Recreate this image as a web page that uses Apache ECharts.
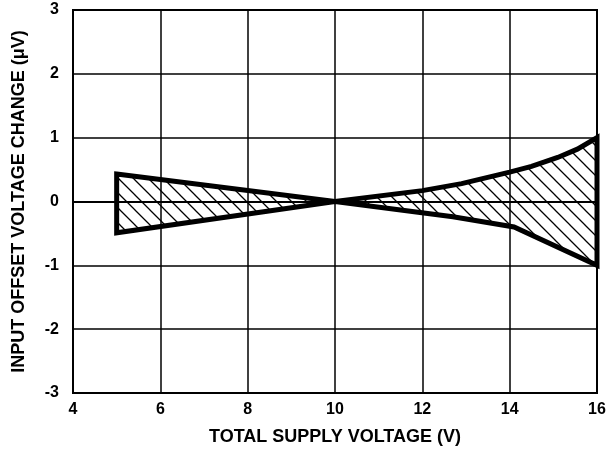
<!DOCTYPE html>
<html>
<head>
<meta charset="utf-8">
<script src="https://cdn.jsdelivr.net/npm/echarts@6/dist/echarts.min.js"></script>
<style>html,body{margin:0;padding:0;background:#fff}#c{width:609px;height:453px}</style>
</head>
<body>
<div id="c"></div>
<script>
// Upper boundary (left to right)
var upperX = [5, 10, 12, 12.9, 14, 14.5, 15.1, 15.55, 16];
var upperY = [0.43, 0, 0.17, 0.28, 0.46, 0.55, 0.69, 0.82, 1.0];
// Lower boundary (left to right)
var lowerX = [5, 10, 12.7, 14.1, 16];
var lowerY = [-0.49, 0, -0.24, -0.4, -1.0];
var xTicks = [4, 6, 8, 10, 12, 14, 16];
var yTicks = [-3, -2, -1, 0, 1, 2, 3];

function hatch() {
  var s = 15;
  var c = document.createElement('canvas');
  c.width = s; c.height = s;
  var g = c.getContext('2d');
  g.strokeStyle = '#000';
  g.lineWidth = 1.3;
  g.beginPath();
  g.moveTo(-2, -2); g.lineTo(s + 2, s + 2);
  g.moveTo(-2, s - 2); g.lineTo(2, s + 2);
  g.moveTo(s - 2, -2); g.lineTo(s + 2, 2);
  g.stroke();
  return c;
}

var chart = echarts.init(document.getElementById('c'), null, {renderer: 'canvas'});
var font = 'Liberation Sans, Arial, Helvetica, sans-serif';
chart.setOption({
  animation: false,
  grid: {left: 73, right: 12, top: 10, bottom: 60, show: true, borderColor: '#000', borderWidth: 2},
  xAxis: {
    type: 'value', min: 4, max: 16, interval: 2,
    name: 'TOTAL SUPPLY VOLTAGE (V)', nameLocation: 'middle', nameGap: 35,
    nameTextStyle: {fontFamily: font, fontWeight: 'bold', fontSize: 18, color: '#000'},
    axisLine: {lineStyle: {color: '#000', width: 2}},
    axisTick: {show: false},
    axisLabel: {fontFamily: font, fontWeight: 'bold', fontSize: 16, color: '#000', margin: 9,
      formatter: function (v) { return xTicks.indexOf(v) >= 0 ? String(v) : ''; }},
    splitLine: {show: true, lineStyle: {color: '#000', width: 1.5}}
  },
  yAxis: {
    type: 'value', min: -3, max: 3, interval: 1,
    name: 'INPUT OFFSET VOLTAGE CHANGE (\u03bcV)', nameLocation: 'middle', nameGap: 45, nameRotate: 90,
    nameTextStyle: {fontFamily: font, fontWeight: 'bold', fontSize: 18, color: '#000'},
    axisLine: {show: true, lineStyle: {color: '#000', width: 2}},
    axisTick: {show: false},
    axisLabel: {fontFamily: font, fontWeight: 'bold', fontSize: 16, color: '#000', margin: 14,
      formatter: function (v) { return yTicks.indexOf(v) >= 0 ? String(v) : ''; }},
    splitLine: {show: true, lineStyle: {color: '#000', width: 1.5}}
  },
  series: [{
    type: 'custom',
    coordinateSystem: 'cartesian2d',
    data: [[10, 0]],
    renderItem: function (params, api) {
      var pts = [];
      for (var i = 0; i < upperX.length; i++) pts.push(api.coord([upperX[i], upperY[i]]));
      for (var j = lowerX.length - 1; j >= 0; j--) pts.push(api.coord([lowerX[j], lowerY[j]]));
      return {
        type: 'polygon',
        shape: {points: pts},
        style: {fill: {image: hatch(), repeat: 'repeat'}, stroke: '#000', lineWidth: 5, lineJoin: 'miter'}
      };
    }
  }]
});
</script>
</body>
</html>
